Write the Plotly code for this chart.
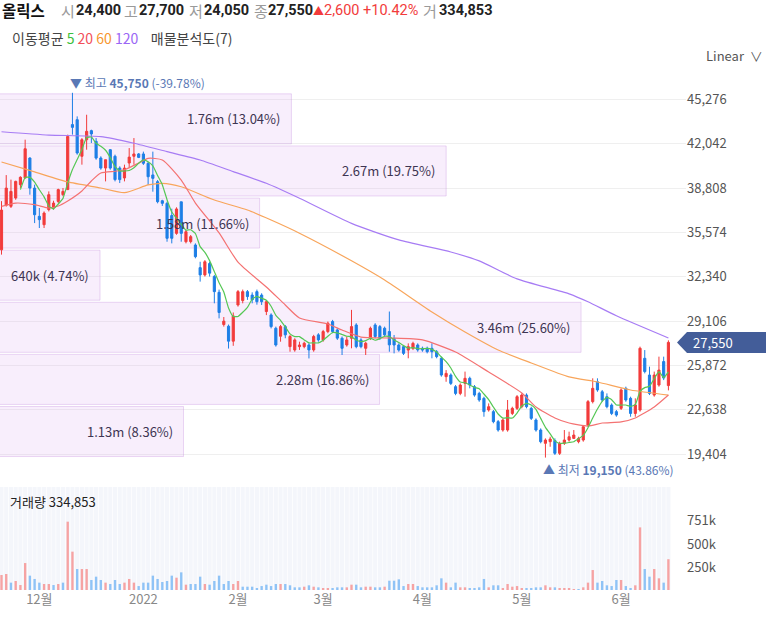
import pandas as pd
import plotly.graph_objects as go

STOCK = "올릭스"

# KRX trading calendar for the displayed window
KRX_HOLIDAYS = ["2021-12-31", "2022-01-31", "2022-02-01", "2022-02-02",
                "2022-03-01", "2022-03-09", "2022-05-05", "2022-06-01", "2022-06-06"]
_days = pd.bdate_range("2021-11-19", "2022-06-17")
_days = _days[~_days.isin(pd.to_datetime(KRX_HOLIDAYS))]
dates = [d.strftime("%Y-%m-%d") for d in _days]

open_ = [34300, 37550, 37470, 38080, 39050, 39540, 40995, 38800, 36740, 36130,
         37230, 37400, 37830, 38320, 38690, 43430, 43790, 41120, 42330, 42990,
         42210, 40995, 40265, 41600, 41120, 40265, 39540, 40630, 41120, 41290,
         41290, 40610, 39760, 39270, 37880, 37690, 36800, 35500, 37800, 34890,
         34900, 34650, 33000, 32470, 33300, 32350, 31200, 28850, 28730, 27640,
         30280, 30600, 31250, 31000, 31250, 31000, 29800, 29550, 28580, 28000,
         28700, 27240, 27000, 27240, 27240, 27360, 27000, 28100, 27730, 28340,
         29070, 28460, 27850, 27360, 27850, 28820, 27730, 27120, 27850, 28820,
         28700, 28580, 28340, 27840, 27360, 27240, 26990, 27120, 27360, 27120,
         27120, 27120, 26870, 26390, 25050, 25170, 24320, 23830, 24560, 24930,
         24320, 23830, 23470, 22620, 22500, 21770, 21160, 21160, 22370, 22740,
         22860, 23710, 22740, 21890, 21160, 20190, 20310, 20400, 19460, 20190,
         20430, 20550, 20310, 20430, 21520, 23230, 24680, 23950, 23590, 22980,
         22500, 22740, 24200, 23470, 22370, 22620, 26390, 25170, 23710, 24440,
         26150, 24400]
high = [37850, 39750, 39420, 39340, 39660, 42330, 41040, 39050, 37350, 37100,
        38560, 37880, 38760, 38810, 42700, 45750, 44030, 42450, 44150, 43060,
        42450, 41120, 40870, 41650, 41240, 40390, 40510, 41720, 42450, 41360,
        41460, 40700, 41460, 39390, 37950, 37810, 37300, 37400, 37800, 35750,
        35380, 34770, 33430, 33550, 33430, 32470, 31400, 29400, 28850, 29730,
        31370, 31400, 31370, 31200, 31400, 31130, 30640, 29670, 28700, 28820,
        28820, 28100, 27850, 27600, 27600, 27490, 28100, 28220, 28460, 29070,
        29190, 28580, 27980, 27980, 29920, 28950, 27850, 27600, 28700, 28950,
        28820, 28700, 29800, 28090, 27480, 27360, 27480, 27600, 27480, 27240,
        27240, 27480, 26990, 26510, 25530, 25290, 24440, 24560, 25420, 25050,
        24440, 23950, 23590, 23100, 22620, 21890, 22010, 23350, 22860, 23710,
        23830, 23830, 22860, 22010, 21280, 20550, 20670, 20550, 20310, 21160,
        21040, 21160, 20670, 21520, 23350, 24930, 24930, 24080, 23830, 23100,
        22620, 24200, 24320, 23590, 23470, 27240, 26990, 25780, 25420, 26510,
        26510, 27700]
low = [33950, 37450, 37350, 37950, 38810, 39490, 38320, 36250, 35890, 35890,
       37100, 37230, 37710, 38200, 38690, 42700, 41240, 40510, 41600, 42090,
       40870, 40140, 39290, 40140, 39290, 39170, 39290, 40260, 40510, 40990,
       40490, 39030, 38540, 37690, 37500, 34890, 34770, 35400, 34890, 34770,
       34770, 33680, 31980, 32350, 32350, 30400, 29300, 28700, 27100, 27300,
       30160, 30400, 30650, 30400, 30300, 30280, 29540, 28570, 27240, 27600,
       27850, 26870, 26870, 27000, 27120, 26380, 26870, 27600, 27600, 28220,
       28220, 27730, 26630, 27240, 27120, 27120, 27120, 26630, 27730, 27850,
       27730, 27980, 26870, 26750, 26870, 26630, 26390, 26990, 26870, 26870,
       26750, 26390, 26390, 25050, 24680, 24440, 23700, 23700, 23590, 24200,
       23590, 23220, 22130, 22500, 21650, 21040, 21040, 21040, 22250, 22620,
       22740, 22740, 21890, 21040, 20190, 19150, 19940, 19340, 19340, 20070,
       20310, 20550, 20190, 20310, 21400, 23100, 23950, 23220, 22740, 22250,
       22130, 22620, 23220, 22130, 22130, 22500, 25290, 23710, 23590, 24320,
       24800, 24050]
close = [37200, 38800, 38560, 39290, 39590, 41670, 38800, 36860, 36500, 36980,
         38320, 37710, 38690, 38560, 42570, 43230, 41360, 42330, 42940, 42750,
         40990, 40260, 40870, 40260, 39420, 39420, 40260, 41060, 41290, 41040,
         40610, 39630, 39510, 37810, 37690, 35140, 35140, 37280, 35500, 35620,
         35260, 33800, 32470, 33430, 32600, 31250, 29730, 29100, 27640, 29480,
         31250, 31250, 30890, 30650, 30520, 30520, 30520, 28700, 27360, 28700,
         28100, 27980, 27730, 27360, 27490, 27000, 27980, 27730, 28340, 28950,
         28340, 27860, 27120, 27730, 28700, 27240, 27240, 27490, 28580, 27980,
         27850, 28100, 27370, 27360, 26990, 26750, 27240, 27480, 27000, 26990,
         26870, 26870, 26510, 25170, 25290, 24560, 23830, 24440, 24930, 24440,
         23710, 23350, 22500, 22860, 21770, 21160, 21890, 22620, 22740, 23590,
         23710, 22860, 22010, 21160, 20310, 20430, 20500, 19460, 20190, 20430,
         20670, 20790, 20550, 21400, 23230, 24200, 24080, 23350, 22860, 22370,
         22250, 24080, 23350, 22370, 22990, 27120, 25420, 23830, 25170, 25530,
         24950, 27550]
volume = [163000, 174000, 80000, 98000, 54000, 293000, 156000, 120000, 80000, 65000,
          65000, 54000, 65000, 80000, 743000, 417000, 228000, 228000, 228000, 109000,
          145000, 109000, 80000, 65000, 109000, 65000, 80000, 120000, 80000, 43000,
          80000, 80000, 156000, 120000, 87000, 98000, 156000, 134000, 192000, 58000,
          65000, 65000, 145000, 65000, 58000, 98000, 156000, 65000, 98000, 65000,
          98000, 36000, 36000, 36000, 18000, 43000, 58000, 43000, 65000, 65000,
          65000, 51000, 29000, 29000, 36000, 51000, 36000, 29000, 18000, 18000,
          18000, 29000, 29000, 29000, 58000, 58000, 29000, 36000, 36000, 29000,
          29000, 36000, 101000, 101000, 116000, 43000, 65000, 65000, 43000, 29000,
          29000, 29000, 51000, 127000, 80000, 29000, 80000, 29000, 29000, 14000,
          14000, 29000, 120000, 29000, 51000, 51000, 18000, 65000, 36000, 43000,
          18000, 14000, 18000, 29000, 29000, 51000, 29000, 29000, 22000, 22000,
          18000, 7000, 7000, 29000, 80000, 217000, 80000, 98000, 51000, 43000,
          109000, 109000, 43000, 18000, 51000, 681000, 228000, 145000, 228000, 127000,
          80000, 334853]

# Moving averages (20/60/120) sampled by trading-day number
ma20_day = [0, 3, 7, 10, 12, 14, 17, 19, 21, 24, 26, 29, 31, 34, 38, 41, 46, 50, 56, 60,
            63, 69, 72, 76, 82, 89, 96, 103, 110, 113, 117, 120, 124, 127, 131, 134, 138, 141]
ma20_val = [37470, 37710, 37590, 37350, 37500, 37860, 38590, 39320, 39900, 40030, 40140, 40630,
            40970, 40850, 39390, 37710, 35530, 33410, 31590, 30280, 29330, 28890, 28450, 27940,
            27870, 27730, 26850, 25390, 23860, 22840, 22040, 21670, 21450, 21670, 21750, 22040,
            22840, 23710]
ma60_day = [0, 7, 14, 21, 26, 31, 34, 38, 45, 52, 57, 63, 74, 81, 91, 98, 105, 112, 120, 126, 133, 141]
ma60_val = [40700, 39980, 39250, 38810, 38470, 39030, 39150, 38900, 37930, 37200, 36470, 35510,
            33500, 32100, 29770, 28310, 27000, 26050, 25030, 24660, 24080, 23710]
ma120_day = [0, 10, 21, 28, 35, 42, 49, 56, 63, 74, 84, 95, 101, 109, 120, 124, 130, 141]
ma120_val = [42910, 42670, 42550, 42070, 41460, 40850, 40000, 39150, 38060, 36230, 35020, 34140,
             33490, 32180, 31090, 30510, 29490, 27870]

# Volume-at-price profile, 7 bands from the lowest to the highest price
profile_volume = [1130000, 2280000, 3460000, 640000, 1580000, 2670000, 1760000]
profile_pct = [8.36, 16.86, 25.60, 4.74, 11.66, 19.75, 13.04]

price_ticks = [19404, 22638, 25872, 29106, 32340, 35574, 38808, 42042, 45276]
volume_ticks = [250000, 500000, 751000]

UP, DOWN = "#f23b3b", "#1d7fe6"
UP_VOL, DOWN_VOL = "#f6a3a3", "#8fc3f6"
MA_COLORS = {"5": "#55c755", "20": "#f47272", "60": "#f8a55b", "120": "#a77cf4"}
FONT = "Noto Sans CJK KR"
NUM_FONT = "Roboto"
n = len(dates)

PLOT_W = 686
price_range = [17880, 47048]
vol_top = 1120000
x_range = [-0.317, 144.72]

fig = go.Figure()

# --- volume profile bands (drawn first, behind the candles)
lo_all, hi_all = min(low), max(high)
band = (hi_all - lo_all) / len(profile_volume)
centers = [lo_all + band * (k + 0.5) for k in range(len(profile_volume))]


def fmt_vol(v):
    return f"{v / 1e6:.2f}m" if v >= 1e6 else f"{v / 1e3:.0f}k"


fig.add_trace(go.Bar(
    x=profile_pct, y=centers, base=0, orientation="h", width=band * 0.96,
    xaxis="x", yaxis="y",
    marker=dict(color="rgba(220,170,240,0.2)", line=dict(color="rgba(190,130,220,0.3)", width=1)),
    hoverinfo="skip"))

# --- candles
fig.add_trace(go.Candlestick(
    x=dates, open=open_, high=high, low=low, close=close, xaxis="x3", yaxis="y",
    increasing=dict(line=dict(color=UP, width=1), fillcolor=UP),
    decreasing=dict(line=dict(color=DOWN, width=1), fillcolor=DOWN),
    whiskerwidth=0, hoverinfo="skip"))

# --- moving averages
ma5 = pd.Series(close, dtype=float).rolling(5).mean()
fig.add_trace(go.Scatter(x=[dates[i] for i in ma120_day], y=ma120_val, mode="lines", xaxis="x3", yaxis="y",
                         line=dict(color=MA_COLORS["120"], width=1.2, shape="spline", smoothing=0.6)))
fig.add_trace(go.Scatter(x=[dates[i] for i in ma60_day], y=ma60_val, mode="lines", xaxis="x3", yaxis="y",
                         line=dict(color=MA_COLORS["60"], width=1.2, shape="spline", smoothing=0.6)))
fig.add_trace(go.Scatter(x=[dates[i] for i in ma20_day], y=ma20_val, mode="lines", xaxis="x3", yaxis="y",
                         line=dict(color=MA_COLORS["20"], width=1.2, shape="spline", smoothing=0.6)))
fig.add_trace(go.Scatter(x=dates, y=ma5, mode="lines", xaxis="x3", yaxis="y",
                         line=dict(color=MA_COLORS["5"], width=1.2, shape="spline", smoothing=0.4)))

# --- volume panel: per-day background stripes, then the volume bars
fig.add_trace(go.Bar(x=dates, y=[vol_top] * n, xaxis="x2", yaxis="y2", width=0.86,
                     marker=dict(color="#f4f6fb", line=dict(width=0)), hoverinfo="skip"))
vol_colors = []
for i in range(n):
    up = close[i] > close[i - 1] if i > 0 else close[0] >= open_[0]
    vol_colors.append(UP_VOL if up else DOWN_VOL)
fig.add_trace(go.Bar(x=dates, y=volume, xaxis="x2", yaxis="y2", width=0.5,
                     marker=dict(color=vol_colors, line=dict(width=0)), hoverinfo="skip"))

# month tick labels on first trading day of each month
month_ticks, month_text = [], []
prev_m = None
for d in _days:
    if d.month != prev_m and d.day <= 7 and d != _days[0]:
        month_ticks.append(d.strftime("%Y-%m-%d"))
        month_text.append(str(d.year) if d.month == 1 else f"{d.month}월")
    prev_m = d.month

annotations = []
sp = "\u00a0"
G = "#9a9a9a"
last_o, last_h, last_l, last_c = open_[-1], high[-1], low[-1], close[-1]
chg = last_c - close[-2]
chg_pct = chg / close[-2] * 100
chg_color = UP if chg > 0 else DOWN
arrow = "▲" if chg > 0 else "▼"

# quote header: (text, left edge in px, colour, bold, size, font)
HEADER_Y = 1.126
header_parts = [
    (STOCK, 0, "#111", True, 15.5, FONT),
    ("시", 59, G, False, 15, FONT), (f"{last_o:,}", 74, "#222", True, 14.5, NUM_FONT),
    ("고", 122, G, False, 15, FONT), (f"{last_h:,}", 137, "#222", True, 14.5, NUM_FONT),
    ("저", 187, G, False, 15, FONT), (f"{last_l:,}", 202, "#222", True, 14.5, NUM_FONT),
    ("종", 252, G, False, 15, FONT), (f"{last_c:,}", 266, "#222", True, 14.5, NUM_FONT),
    (arrow, 311, chg_color, False, 11, FONT),
    (f"{abs(chg):,}{sp}{chg_pct:+.2f}%", 322, chg_color, False, 14.5, NUM_FONT),
    ("거", 421, G, False, 15, FONT), (f"{volume[-1]:,}", 437, "#222", True, 14.5, NUM_FONT),
]
for txt, xpx, col, bold, size, fam in header_parts:
    annotations.append(dict(text=f"<b>{txt}</b>" if bold else txt, xref="paper", yref="paper",
                            x=xpx / PLOT_W, y=HEADER_Y, xanchor="left", yanchor="middle", showarrow=False,
                            font=dict(size=size, color=col, family=fam)))

ma_line = (f"이동평균{sp}<span style='color:#3cbf3c'>5</span>{sp}"
           f"<span style='color:#f24f5a'>20</span>{sp}"
           f"<span style='color:#f7962e'>60</span>{sp}"
           f"<span style='color:#9a66f5'>120</span>{sp * 4}매물분석도({len(profile_volume)})")
annotations.append(dict(text=ma_line, xref="paper", yref="paper", x=10 / PLOT_W, y=1.072, xanchor="left",
                        yanchor="middle", showarrow=False, font=dict(size=14, color="#444", family=FONT)))
annotations.append(dict(text="Linear" + sp * 2 + "∨", xref="paper", yref="paper", x=1.026, y=1.037,
                        xanchor="left", yanchor="middle", showarrow=False,
                        font=dict(size=13, color="#555", family=FONT)))

# high / low markers
i_hi = high.index(max(high))
i_lo = low.index(min(low))
hi_pct = (last_c - high[i_hi]) / high[i_hi] * 100
lo_pct = (last_c - low[i_lo]) / low[i_lo] * 100
MARK = "#5a78b5"
annotations.append(dict(text=f"▼{sp}최고{sp}<b>{high[i_hi]:,}</b>{sp}({hi_pct:.2f}%)",
                        xref="x3", yref="y", x=dates[i_hi], y=high[i_hi], xanchor="left", yanchor="bottom",
                        xshift=-4, yshift=0, showarrow=False, font=dict(size=12, color=MARK, family=FONT)))
annotations.append(dict(text=f"▲{sp}최저{sp}<b>{low[i_lo]:,}</b>{sp}({lo_pct:.2f}%)",
                        xref="x3", yref="y", x=dates[i_lo], y=low[i_lo], xanchor="left", yanchor="top",
                        xshift=-4, yshift=-1, showarrow=False, font=dict(size=12, color=MARK, family=FONT)))

# profile band labels
for v, p, c in zip(profile_volume, profile_pct, centers):
    annotations.append(dict(text=f"{fmt_vol(v)} ({p:.2f}%)", xref="x", yref="y", x=p, y=c,
                            xanchor="right", yanchor="middle", xshift=-9, showarrow=False,
                            font=dict(size=13, color="#3e3552", family=FONT)))

# last price tag on the right axis
px_per_unit = 400 / (price_range[1] - price_range[0])
half_h = 10.5 / px_per_unit
x_tip, x_body, x_end = 677 / PLOT_W, 687 / PLOT_W, 766 / PLOT_W
shapes = [dict(type="path", xref="paper", yref="y", layer="above",
               path=(f"M {x_tip},{last_c} L {x_body},{last_c + half_h} L {x_end},{last_c + half_h} "
                     f"L {x_end},{last_c - half_h} L {x_body},{last_c - half_h} Z"),
               fillcolor="#435d99", line=dict(width=0))]
annotations.append(dict(text=f"{last_c:,}", xref="paper", yref="y", x=691 / PLOT_W, y=last_c, xanchor="left",
                        yanchor="middle", showarrow=False, font=dict(size=13, color="white", family=FONT)))

annotations.append(dict(text=f"거래량{sp}{volume[-1]:,}", xref="paper", yref="paper", x=8 / PLOT_W, y=0.172,
                        xanchor="left", yanchor="middle", showarrow=False,
                        font=dict(size=13, color="#222", family=FONT)))

fig.update_layout(
    width=766, height=617,
    margin=dict(l=0, r=766 - PLOT_W, t=75, b=27),
    paper_bgcolor="white", plot_bgcolor="white",
    showlegend=False, barmode="overlay", boxgap=0.35,
    font=dict(family=FONT, size=13, color="#555"),
    annotations=annotations, shapes=shapes,
    xaxis=dict(domain=[0, 1], anchor="y", range=[0.403, 30.15], visible=False, fixedrange=True),
    xaxis3=dict(type="category", categoryorder="array", categoryarray=dates, overlaying="x", anchor="y",
                range=x_range, showticklabels=False, showgrid=False, zeroline=False,
                rangeslider=dict(visible=False)),
    xaxis2=dict(type="category", categoryorder="array", categoryarray=dates, anchor="y2", domain=[0, 1],
                range=x_range, tickmode="array", tickvals=month_ticks, ticktext=month_text,
                showgrid=False, zeroline=False, ticks="", tickfont=dict(size=13, color="#888")),
    yaxis=dict(domain=[0.2233, 1], range=price_range, side="right", tickmode="array",
               tickvals=price_ticks, ticktext=[f"{t:,}" for t in price_ticks],
               gridcolor="#efefef", zeroline=False, showline=False, ticks="",
               tickfont=dict(size=13, color="#555")),
    yaxis2=dict(domain=[0, 0.2], range=[0, vol_top], side="right", tickmode="array",
                tickvals=volume_ticks, ticktext=[f"{v // 1000}k" for v in volume_ticks],
                showgrid=False, zeroline=False, ticks="", tickfont=dict(size=13, color="#555")),
)

fig.write_html("out.html")
